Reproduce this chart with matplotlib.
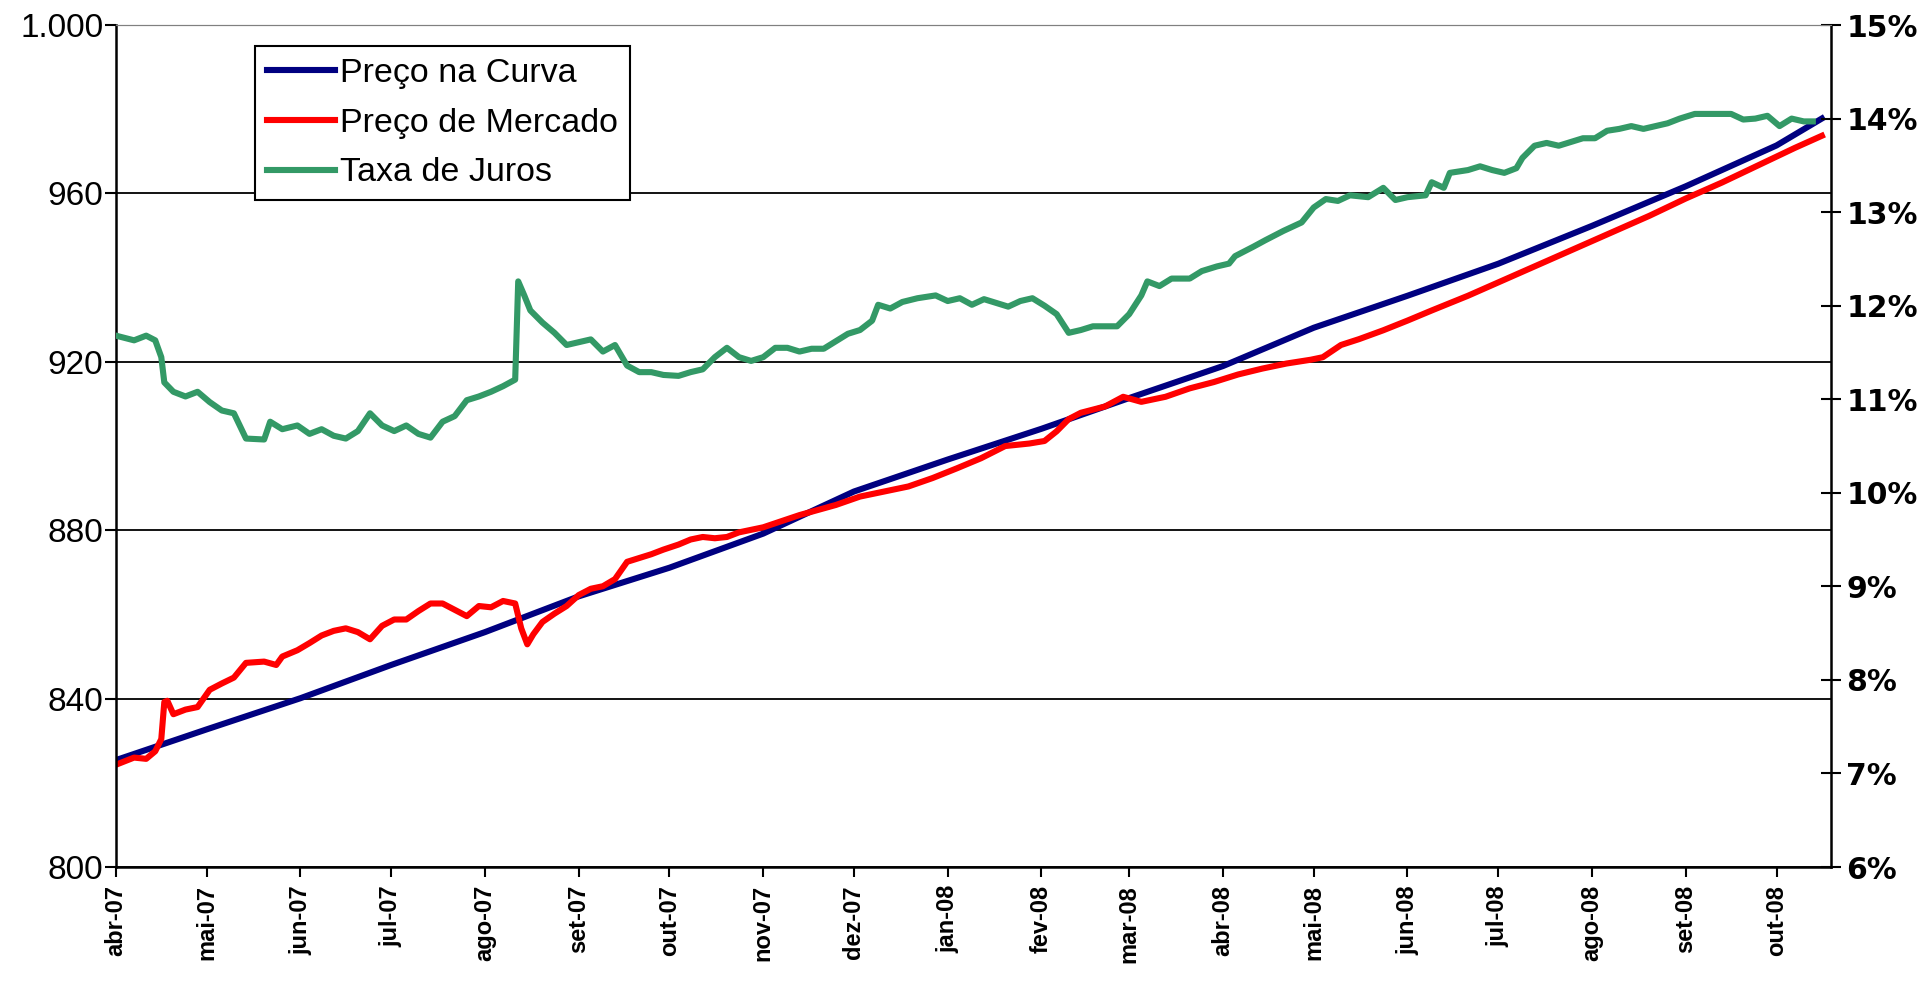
import pandas as pd
import numpy as np
import matplotlib
matplotlib.use("Agg")
import matplotlib.pyplot as plt
from matplotlib.ticker import FuncFormatter, FixedLocator

# Preço na Curva (valor acumulado na curva)
curva_datas = ["2007-04-01", "2007-05-01", "2007-06-01", "2007-07-01", "2007-08-01",
               "2007-09-01", "2007-10-01", "2007-11-01", "2007-12-01", "2008-01-01",
               "2008-02-01", "2008-03-01", "2008-04-01", "2008-05-01", "2008-06-01",
               "2008-07-01", "2008-08-01", "2008-09-01", "2008-10-01", "2008-10-16"]
curva_valores = [825.4, 832.7, 840.1, 848.0, 855.8,
                 864.3, 871.1, 879.2, 889.2, 896.8,
                 904.1, 911.4, 919.0, 928.1, 935.7,
                 943.3, 952.3, 961.7, 971.4, 977.8]

# Preço de Mercado
mercado_datas = ["2007-04-01", "2007-04-07", "2007-04-11", "2007-04-14", "2007-04-16",
                 "2007-04-17", "2007-04-18", "2007-04-20", "2007-04-24", "2007-04-28",
                 "2007-05-02", "2007-05-06", "2007-05-10", "2007-05-14", "2007-05-20",
                 "2007-05-24", "2007-05-26", "2007-05-31", "2007-06-04", "2007-06-08",
                 "2007-06-12", "2007-06-16", "2007-06-20", "2007-06-24", "2007-06-28",
                 "2007-07-02", "2007-07-06", "2007-07-10", "2007-07-14", "2007-07-18",
                 "2007-07-22", "2007-07-26", "2007-07-30", "2007-08-03", "2007-08-07",
                 "2007-08-11", "2007-08-13", "2007-08-15", "2007-08-17", "2007-08-20",
                 "2007-08-24", "2007-08-28", "2007-09-01", "2007-09-05", "2007-09-09",
                 "2007-09-13", "2007-09-17", "2007-09-21", "2007-09-25", "2007-09-29",
                 "2007-10-04", "2007-10-08", "2007-10-12", "2007-10-16", "2007-10-20",
                 "2007-10-24", "2007-11-01", "2007-11-13", "2007-11-25", "2007-12-03",
                 "2007-12-11", "2007-12-19", "2007-12-27", "2008-01-04", "2008-01-12",
                 "2008-01-20", "2008-01-28", "2008-02-02", "2008-02-06", "2008-02-10",
                 "2008-02-14", "2008-02-22", "2008-02-28", "2008-03-05", "2008-03-13",
                 "2008-03-21", "2008-03-29", "2008-04-06", "2008-04-14", "2008-04-22",
                 "2008-04-30", "2008-05-04", "2008-05-10", "2008-05-16", "2008-05-24",
                 "2008-06-01", "2008-06-09", "2008-06-21", "2008-07-03", "2008-07-15",
                 "2008-07-27", "2008-08-08", "2008-08-20", "2008-09-01", "2008-09-13",
                 "2008-09-25", "2008-10-07", "2008-10-16"]
mercado_valores = [824.3, 826.0, 825.7, 827.5, 830.4,
                   839.2, 839.5, 836.3, 837.4, 838.0,
                   842.1, 843.6, 845.0, 848.5, 848.8,
                   848.0, 850.0, 851.5, 853.2, 855.0,
                   856.1, 856.7, 855.8, 854.1, 857.3,
                   858.8, 858.8, 860.8, 862.6, 862.6,
                   861.1, 859.6, 862.0, 861.7, 863.2,
                   862.6, 856.7, 852.9, 855.3, 858.2,
                   860.2, 862.0, 864.6, 866.1, 866.7,
                   868.4, 872.5, 873.4, 874.3, 875.4,
                   876.6, 877.8, 878.4, 878.1, 878.4,
                   879.5, 880.7, 883.6, 886.0, 888.0,
                   889.2, 890.4, 892.4, 894.7, 897.1,
                   900.0, 900.6, 901.2, 903.5, 906.4,
                   907.9, 909.4, 911.7, 910.5, 911.7,
                   913.7, 915.2, 917.0, 918.4, 919.6,
                   920.5, 921.1, 924.0, 925.4, 927.5,
                   929.8, 932.2, 935.7, 939.5, 943.3,
                   947.1, 950.9, 954.7, 958.8, 962.6,
                   966.7, 970.8, 973.7]

# Taxa de Juros (% a.a.)
juros_datas = ["2007-04-01", "2007-04-07", "2007-04-11", "2007-04-14", "2007-04-16",
               "2007-04-17", "2007-04-20", "2007-04-24", "2007-04-28", "2007-05-02",
               "2007-05-06", "2007-05-10", "2007-05-14", "2007-05-20", "2007-05-22",
               "2007-05-26", "2007-05-31", "2007-06-04", "2007-06-08", "2007-06-12",
               "2007-06-16", "2007-06-20", "2007-06-24", "2007-06-28", "2007-07-02",
               "2007-07-06", "2007-07-10", "2007-07-14", "2007-07-18", "2007-07-22",
               "2007-07-26", "2007-07-30", "2007-08-03", "2007-08-07", "2007-08-11",
               "2007-08-12", "2007-08-14", "2007-08-16", "2007-08-20", "2007-08-24",
               "2007-08-28", "2007-09-01", "2007-09-05", "2007-09-09", "2007-09-13",
               "2007-09-17", "2007-09-21", "2007-09-25", "2007-09-29", "2007-10-04",
               "2007-10-08", "2007-10-12", "2007-10-16", "2007-10-20", "2007-10-24",
               "2007-10-28", "2007-11-01", "2007-11-05", "2007-11-09", "2007-11-13",
               "2007-11-17", "2007-11-21", "2007-11-25", "2007-11-29", "2007-12-03",
               "2007-12-07", "2007-12-09", "2007-12-13", "2007-12-17", "2007-12-22",
               "2007-12-28", "2008-01-01", "2008-01-05", "2008-01-09", "2008-01-13",
               "2008-01-17", "2008-01-21", "2008-01-25", "2008-01-29", "2008-02-02",
               "2008-02-06", "2008-02-10", "2008-02-14", "2008-02-18", "2008-02-22",
               "2008-02-26", "2008-03-01", "2008-03-05", "2008-03-07", "2008-03-11",
               "2008-03-15", "2008-03-21", "2008-03-25", "2008-03-30", "2008-04-03",
               "2008-04-05", "2008-04-11", "2008-04-15", "2008-04-21", "2008-04-27",
               "2008-05-01", "2008-05-05", "2008-05-09", "2008-05-13", "2008-05-19",
               "2008-05-24", "2008-05-28", "2008-06-01", "2008-06-07", "2008-06-09",
               "2008-06-13", "2008-06-15", "2008-06-21", "2008-06-25", "2008-06-29",
               "2008-07-03", "2008-07-07", "2008-07-09", "2008-07-13", "2008-07-17",
               "2008-07-21", "2008-07-25", "2008-07-29", "2008-08-02", "2008-08-06",
               "2008-08-10", "2008-08-14", "2008-08-18", "2008-08-22", "2008-08-26",
               "2008-08-30", "2008-09-04", "2008-09-12", "2008-09-16", "2008-09-20",
               "2008-09-24", "2008-09-28", "2008-10-02", "2008-10-06", "2008-10-10",
               "2008-10-13"]
juros_valores = [11.68, 11.63, 11.68, 11.63, 11.45,
                 11.18, 11.08, 11.03, 11.08, 10.97,
                 10.88, 10.85, 10.58, 10.57, 10.76,
                 10.68, 10.72, 10.63, 10.68, 10.61,
                 10.58, 10.66, 10.85, 10.72, 10.66,
                 10.72, 10.63, 10.59, 10.76, 10.82,
                 10.99, 11.03, 11.08, 11.14, 11.21,
                 12.26, 12.11, 11.95, 11.82, 11.71,
                 11.58, 11.61, 11.64, 11.51, 11.58,
                 11.36, 11.29, 11.29, 11.26, 11.25,
                 11.29, 11.32, 11.45, 11.55, 11.45,
                 11.41, 11.45, 11.55, 11.55, 11.51,
                 11.54, 11.54, 11.62, 11.70, 11.74,
                 11.84, 12.01, 11.97, 12.04, 12.08,
                 12.11, 12.05, 12.08, 12.01, 12.07,
                 12.03, 11.99, 12.05, 12.08, 12.00,
                 11.91, 11.71, 11.74, 11.78, 11.78,
                 11.78, 11.91, 12.11, 12.26, 12.21,
                 12.29, 12.29, 12.37, 12.42, 12.45,
                 12.53, 12.63, 12.70, 12.80, 12.89,
                 13.05, 13.14, 13.12, 13.18, 13.16,
                 13.26, 13.13, 13.16, 13.18, 13.32,
                 13.26, 13.42, 13.45, 13.49, 13.45,
                 13.42, 13.47, 13.58, 13.71, 13.74,
                 13.71, 13.75, 13.79, 13.79, 13.87,
                 13.89, 13.92, 13.89, 13.92, 13.95,
                 14.00, 14.05, 14.05, 14.05, 13.99,
                 14.00, 14.03, 13.92, 14.00, 13.97,
                 13.97]

meses = ["jan", "fev", "mar", "abr", "mai", "jun", "jul", "ago", "set", "out", "nov", "dez"]
ticks_esq = [800, 840, 880, 920, 960, 1000]
ticks_dir = [6, 7, 8, 9, 10, 11, 12, 13, 14, 15]

azul = "#000080"
vermelho = "#FF0000"
verde = "#339966"

curva = pd.Series(curva_valores, index=pd.to_datetime(curva_datas))
mercado = pd.Series(mercado_valores, index=pd.to_datetime(mercado_datas))
juros = pd.Series(juros_valores, index=pd.to_datetime(juros_datas))

fig = plt.figure(figsize=(19.32, 9.9), dpi=100)
ax = fig.add_axes([0.060, 0.1242, 0.8877, 0.8505])
ax2 = ax.twinx()

l1, = ax.plot(curva.index, curva.values, color=azul, lw=4.4, label="Preço na Curva")
l2, = ax.plot(mercado.index, mercado.values, color=vermelho, lw=4.4, label="Preço de Mercado")
l3, = ax2.plot(juros.index, juros.values, color=verde, lw=4.4, label="Taxa de Juros")

ax.set_xlim(pd.Timestamp("2007-04-01"), pd.Timestamp("2008-10-19"))
ax.set_ylim(800, 1000)
ax2.set_ylim(6, 15)

# eixo x: início de cada mês
ticks_x = pd.date_range("2007-04-01", "2008-10-01", freq="MS")
ax.set_xticks(ticks_x)
ax.set_xticklabels([f"{meses[d.month - 1]}-{d.year % 100:02d}" for d in ticks_x],
                   rotation=90, fontsize=17, fontweight="bold", family="Liberation Sans")

ax.yaxis.set_major_locator(FixedLocator(ticks_esq))
ax.yaxis.set_major_formatter(FuncFormatter(lambda v, p: f"{v:,.0f}".replace(",", ".")))
ax2.yaxis.set_major_locator(FixedLocator(ticks_dir))
ax2.yaxis.set_major_formatter(FuncFormatter(lambda v, p: f"{v:.0f}%"))

for t in ax.get_yticklabels():
    t.set_family("Liberation Sans")
    t.set_fontsize(24)
for t in ax2.get_yticklabels():
    t.set_family("DejaVu Sans")
    t.set_fontweight("bold")
    t.set_fontsize(21.5)

ax.tick_params(axis="y", direction="out", length=8, width=1.5, pad=1, colors="black")
ax.tick_params(axis="x", direction="out", length=7, width=1.5, pad=6)
ax2.tick_params(axis="y", direction="inout", length=14, width=1.5, pad=4)

ax.grid(axis="y", color="black", lw=1.3)
ax.set_axisbelow(True)

for s in ["left", "bottom"]:
    ax.spines[s].set_linewidth(1.8)
ax2.spines["right"].set_linewidth(1.8)
ax2.spines["left"].set_visible(False)
ax2.spines["bottom"].set_visible(False)
ax.spines["right"].set_visible(False)
ax.spines["top"].set_color("#808080")
ax2.spines["top"].set_color("#808080")

leg = ax2.legend(handles=[l1, l2, l3], loc="upper left", bbox_to_anchor=(0.081, 0.975),
                 borderaxespad=0, frameon=True, fancybox=False, framealpha=1,
                 edgecolor="black", handlelength=2.0, handletextpad=0.15,
                 labelspacing=0.55, borderpad=0.35,
                 prop={"family": "Liberation Sans", "size": 24.5})
leg.get_frame().set_linewidth(1.5)

fig.savefig("out.png", dpi=100, facecolor="white")
